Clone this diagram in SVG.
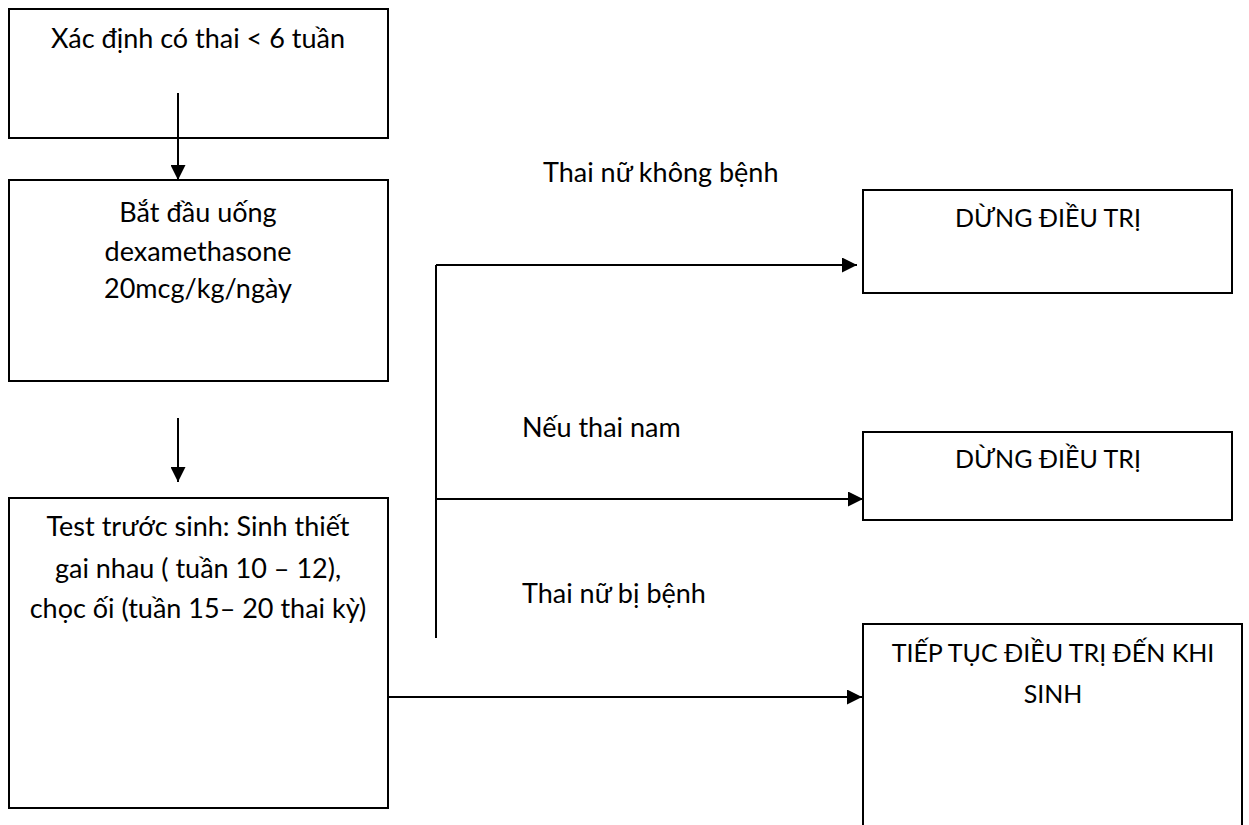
<svg xmlns="http://www.w3.org/2000/svg" width="1249" height="825" viewBox="0 0 1249 825">
  <style>
    .box { fill: #ffffff; stroke: #000000; stroke-width: 2; }
    .wire { fill: none; stroke: #000000; stroke-width: 2; }
    .txt { font-family: "Lato", "Liberation Sans", sans-serif; font-size: 27px; fill: #000000; }
    .caps { font-size: 25px; }
    .mid { text-anchor: middle; }
  </style>
  <defs>
    <marker id="head" viewBox="0 0 10 10" refX="10" refY="5" markerWidth="7.5" markerHeight="7.5" markerUnits="strokeWidth" orient="auto">
      <path d="M0,0 L10,5 L0,10 Z" fill="#000000"/>
    </marker>
  </defs>
  <rect width="1249" height="825" fill="#ffffff"/>

  <g id="n-confirm">
    <rect class="box" x="9" y="9" width="379" height="129"/>
    <text class="txt mid" x="198" y="48">Xác định có thai &lt; 6 tuần</text>
  </g>

  <g id="n-dexa">
    <rect class="box" x="9" y="180" width="379" height="201"/>
    <text class="txt mid" x="198" y="222">Bắt đầu uống</text>
    <text class="txt mid" x="198" y="261">dexamethasone</text>
    <text class="txt mid" x="198" y="298">20mcg/kg/ngày</text>
  </g>

  <g id="n-test">
    <rect class="box" x="9" y="498" width="379" height="310"/>
    <text class="txt mid" x="198" y="536">Test trước sinh: Sinh thiết</text>
    <text class="txt mid" x="198" y="578">gai nhau ( tuần 10 – 12),</text>
    <text class="txt mid" x="198" y="618">chọc ối (tuần 15– 20 thai kỳ)</text>
  </g>

  <g id="n-stop1">
    <rect class="box" x="863" y="190" width="369" height="103"/>
    <text class="txt caps mid" x="1048" y="227">DỪNG ĐIỀU TRỊ</text>
  </g>

  <g id="n-stop2">
    <rect class="box" x="863" y="432" width="369" height="88"/>
    <text class="txt caps mid" x="1048" y="468">DỪNG ĐIỀU TRỊ</text>
  </g>

  <g id="n-continue">
    <rect class="box" x="863" y="624" width="379" height="220"/>
    <text class="txt caps mid" x="1053" y="662">TIẾP TỤC ĐIỀU TRỊ ĐẾN KHI</text>
    <text class="txt caps mid" x="1053" y="703">SINH</text>
  </g>

  <g id="connectors">
    <line class="wire" x1="178" y1="93" x2="178" y2="180" marker-end="url(#head)"/>
    <line class="wire" x1="178" y1="418" x2="178" y2="482" marker-end="url(#head)"/>
    <line class="wire" x1="436" y1="265" x2="436" y2="638"/>
    <line class="wire" x1="436" y1="265" x2="857" y2="265" marker-end="url(#head)"/>
    <line class="wire" x1="436" y1="499" x2="863" y2="499" marker-end="url(#head)"/>
    <line class="wire" x1="388" y1="697" x2="862" y2="697" marker-end="url(#head)"/>
  </g>

  <g id="labels">
    <text class="txt" x="543" y="182">Thai nữ không bệnh</text>
    <text class="txt" x="522" y="437">Nếu thai nam</text>
    <text class="txt" x="522" y="603">Thai nữ bị bệnh</text>
  </g>
</svg>
